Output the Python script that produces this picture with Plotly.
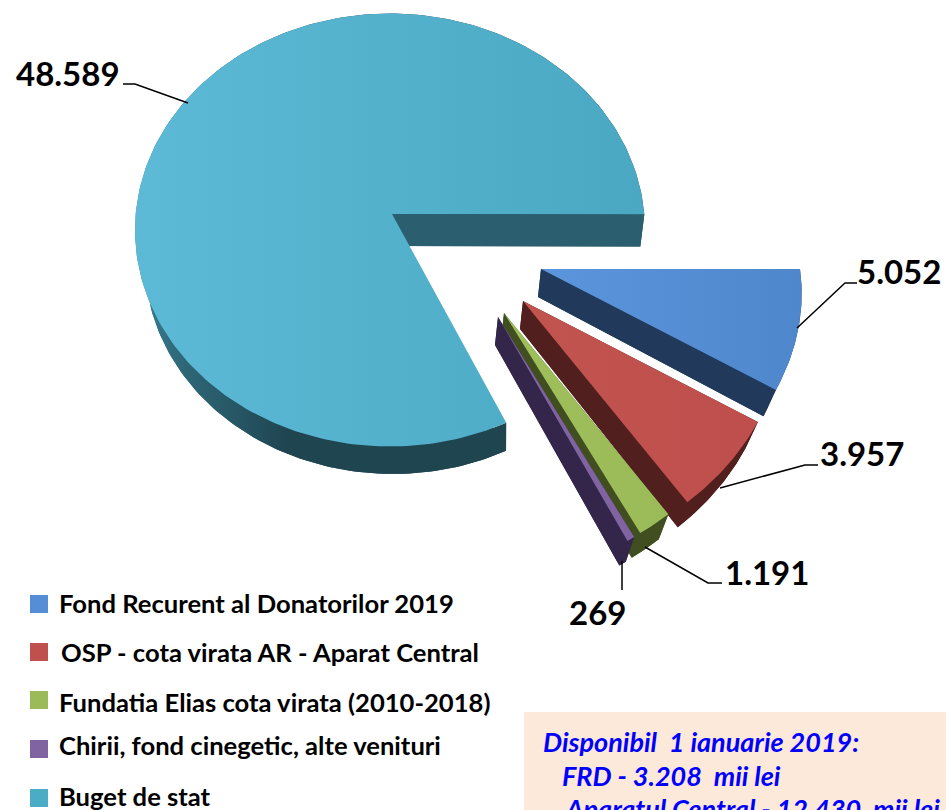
import numpy as np
import plotly.graph_objects as go

# ---- data ----
categories = ["Fond Recurent al Donatorilor 2019", "OSP - cota virata AR - Aparat Central",
              "Fundatia Elias cota virata (2010-2018)", "Chirii, fond cinegetic, alte venituri", "Buget de stat"]
values = [5052, 3957, 1191, 269, 48589]
value_labels = ["5.052", "3.957", "1.191", "269", "48.589"]
note_lines = ["Disponibil  1 ianuarie 2019:", "FRD - 3.208  mii lei", "Aparatul Central - 12.430  mii lei"]

# ---- style / layout ----
top_colors = ["#558ED5", "#C0504D", "#9BBB59", "#8064A2", "#4BACC6"]
dark_colors = ["#21395A", "#511F1D", "#414F20", "#33264A", "#1F4551"]
apexes = [(541, 269), (523, 301), (504, 313), (498, 317)]
FONT = "Lato"

shares = np.array(values) / sum(values) * 360.0
edges = np.concatenate([[0], np.cumsum(shares[:4])])


def rim_small(t, apex):
    r = np.radians(t)
    return apex[0] + 259 * np.cos(r) + (31 - 0.22 * t) * np.sin(r), apex[1] + (224 + 0.4 * t) * np.sin(r)


def rim_big(t):
    r = np.radians(t * 0.989 - 4.2)
    return 390 + 255 * np.cos(r), 230 + 216.5 * np.sin(r)


def rim_big_low(t):
    r = np.radians(t * 0.989 - 4.2)
    return 393 + 248 * np.cos(r), 262 + 212 * np.sin(r)


fig = go.Figure()


def poly(x, y, color, name, gradient=None):
    kw = dict(fillgradient=gradient) if gradient else dict(fillcolor=color)
    fig.add_trace(go.Scatter(x=list(x), y=list(y), mode="lines", fill="toself", line=dict(width=0, color=color),
                             name=name, showlegend=False, hoverinfo="skip", **kw))


# note box
fig.add_shape(type="rect", x0=524, x1=946, y0=712, y1=810, fillcolor="#FDE9D9", line_width=0, layer="below")

# large slice: side, then top
side_grad = dict(type="horizontal", colorscale=[[0, "#3A7F93"], [0.1, "#2E6676"], [0.3, "#1F4551"], [1, "#1F4551"]])
big_t = np.linspace(-shares[4], 0, 240)
bx, by = rim_big(big_t)
lx, ly = rim_big_low(big_t)
poly(list(lx) + [392], list(ly) + [246], "#1F4551", categories[4], side_grad)
poly(list(bx) + list(lx[::-1]), list(by) + list(ly[::-1]), "#1F4551", categories[4], side_grad)
poly([392, bx[-1], lx[-1], 392], [214, by[-1], ly[-1], 246], "#2B5F6F", categories[4])
poly(list(bx) + [392], list(by) + [214], top_colors[4], categories[4],
     dict(type="horizontal", colorscale=[[0, "#5DBAD6"], [1, "#4AA8C3"]]))

# exploded slices
grads = [["#5B95DC", "#4F87CC"], ["#C25450", "#BE4F4C"], ["#9FBF5B", "#9BBB59"], ["#8064A2", "#8064A2"]]
for i, apex in enumerate(apexes):
    t = np.linspace(edges[i], edges[i + 1], 40)
    x, y = rim_small(t, apex)
    low = (apex[0] - 3, apex[1] + 28)
    x2 = low[0] + 0.96 * (x - apex[0])
    y2 = low[1] + 0.985 * (y - apex[1])
    d = dark_colors[i]
    poly(list(x2) + [low[0]], list(y2) + [low[1]], d, categories[i])
    poly([apex[0], x[0], x2[0], low[0]], [apex[1], y[0], y2[0], low[1]], d, categories[i])
    poly([apex[0], x[-1], x2[-1], low[0]], [apex[1], y[-1], y2[-1], low[1]], d, categories[i])
    poly(list(x) + list(x2[::-1]), list(y) + list(y2[::-1]), d, categories[i])
    poly(list(x) + [apex[0]], list(y) + [apex[1]], top_colors[i], categories[i],
         dict(type="horizontal", colorscale=[[0, grads[i][0]], [1, grads[i][1]]]))

# leader lines
leaders = [
    ([797, 845, 857], [328, 283, 283]),
    ([720, 805, 818], [488, 465, 465]),
    ([645, 708, 722], [547, 583, 583]),
    ([622, 622], [561, 590]),
    ([188, 135, 123], [103, 84, 84]),
]
for (lxs, lys) in leaders:
    fig.add_trace(go.Scatter(x=lxs, y=lys, mode="lines", line=dict(color="black", width=1.5),
                             showlegend=False, hoverinfo="skip"))

# value labels
label_pos = [(899, 271), (862, 453), (767, 572), (597, 612), (68, 73)]
for txt, (px, py) in zip(value_labels, label_pos):
    fig.add_annotation(x=px, y=py, text=f"<b>{txt}</b>", showarrow=False,
                       font=dict(family=FONT, size=33, color="black"))

# legend
swatch_y = [604, 652, 700, 749, 798]
text_y = [603, 652, 702, 745, 796]
text_x = [57, 59, 57, 57, 57]
fig.add_trace(go.Scatter(x=[39] * 5, y=swatch_y, mode="markers",
                         marker=dict(symbol="square", size=18, color=top_colors, line_width=0),
                         showlegend=False, hoverinfo="skip"))
for name, tx, ty in zip(categories, text_x, text_y):
    fig.add_annotation(x=tx, y=ty, text=f"<b>{name}</b>", showarrow=False, xanchor="left",
                       font=dict(family=FONT, size=25.6, color="black"))

# note
for line, nx, ny in zip(note_lines, [541, 560, 562], [741, 775, 808]):
    fig.add_annotation(x=nx, y=ny, text=f"<b><i>{line}</i></b>", showarrow=False, xanchor="left",
                       font=dict(family=FONT, size=27, color="#0000FF"))

fig.update_layout(width=946, height=810, margin=dict(l=0, r=0, t=0, b=0), autosize=False,
                  paper_bgcolor="white", plot_bgcolor="white", showlegend=False,
                  xaxis=dict(range=[0, 946], visible=False, fixedrange=True),
                  yaxis=dict(range=[810, 0], visible=False, fixedrange=True))
fig.write_html("out.html", config={"displayModeBar": False},
               post_script="document.body.style.margin='0';")
